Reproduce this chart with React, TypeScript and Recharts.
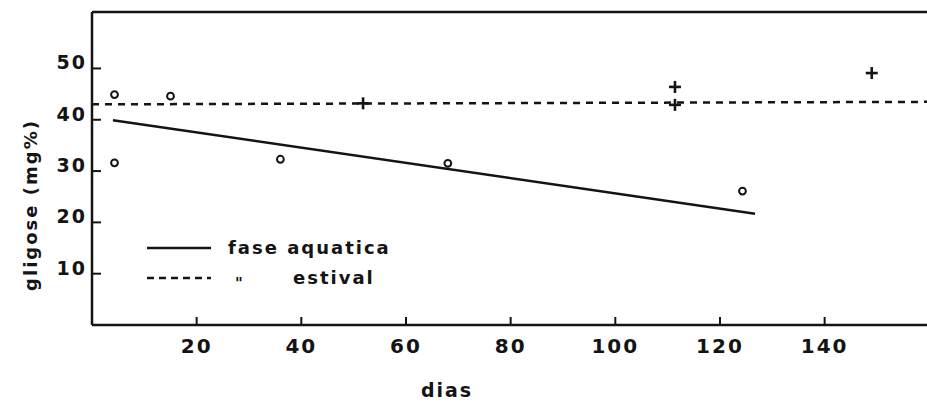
import { ComposedChart, Scatter, XAxis, YAxis, ReferenceLine } from 'recharts';

// fase aquatica - pontos (dias, glicose mg%)
const aquaticaDias = [4.3, 4.3, 15, 36, 68, 124.3];
const aquaticaGlic = [44.9, 31.6, 44.6, 32.3, 31.5, 26.1];
// fase estival - pontos
const estivalDias = [51.8, 111.4, 111.4, 149];
const estivalGlic = [43.2, 46.4, 42.9, 49.1];
// linhas de tendencia
const aquaticaLinhaDias = [4, 126.7];
const aquaticaLinhaGlic = [39.9, 21.7];
const estivalLinhaDias = [0, 163];
const estivalLinhaGlic = [43.0, 43.5];

const xTicks = [20, 40, 60, 80, 100, 120, 140];
const yTicks = [10, 20, 30, 40, 50];
const yMax = 61;

const toPts = (xs: number[], ys: number[]) => xs.map((x, i) => ({ x, y: ys[i] }));

const aquatica = toPts(aquaticaDias, aquaticaGlic);
const estival = toPts(estivalDias, estivalGlic);
const aquaticaLinha = toPts(aquaticaLinhaDias, aquaticaLinhaGlic);
const estivalLinha = toPts(estivalLinhaDias, estivalLinhaGlic);

const INK = '#141414';
const FONT = '"DejaVu Sans", sans-serif';
const AXIS_X = 92;
const AXIS_Y = 325;

const Circle = (p: any) => (
  <circle cx={p.cx} cy={p.cy} r={3.4} fill="none" stroke={INK} strokeWidth={2} />
);

const Plus = (p: any) => (
  <g stroke={INK} strokeWidth={2.6}>
    <line x1={p.cx - 6} y1={p.cy} x2={p.cx + 6} y2={p.cy} />
    <line x1={p.cx} y1={p.cy - 6} x2={p.cx} y2={p.cy + 6} />
  </g>
);

const NoDot = () => <g />;

const XTick = (p: any) => (
  <g>
    <line x1={p.x} y1={AXIS_Y} x2={p.x} y2={AXIS_Y - 8} stroke={INK} strokeWidth={2} />
    <text x={p.x} y={AXIS_Y + 28} textAnchor="middle" fontSize={20} fontWeight="bold" letterSpacing={2} fill={INK} fontFamily={FONT}>
      {p.payload.value}
    </text>
  </g>
);

const YTick = (p: any) => (
  <g>
    <line x1={AXIS_X} y1={p.y} x2={AXIS_X + 9} y2={p.y} stroke={INK} strokeWidth={2} />
    <text x={AXIS_X - 5} y={p.y + 1} textAnchor="end" fontSize={19} fontWeight="bold" letterSpacing={2} fill={INK} fontFamily={FONT}>
      {p.payload.value}
    </text>
  </g>
);

const YLabel = () => (
  <text x={37} y={205} transform="rotate(-90, 37, 205)" textAnchor="middle" fontSize={18} fontWeight="bold" letterSpacing={2} fill={INK} fontFamily={FONT}>
    gligose (mg%)
  </text>
);

const XLabel = () => (
  <text x={447} y={397} textAnchor="middle" fontSize={19} fontWeight="bold" letterSpacing={2} fill={INK} fontFamily={FONT}>
    dias
  </text>
);

const LegendBox = () => (
  <div style={{ position: 'absolute', left: 147, top: 233, fontFamily: FONT, fontSize: 18, fontWeight: 'bold', letterSpacing: 2, color: INK, lineHeight: '30px' }}>
    <div style={{ display: 'flex', alignItems: 'center', height: 30 }}>
      <svg width={64} height={10}>
        <line x1={0} y1={5} x2={64} y2={5} stroke={INK} strokeWidth={2.5} />
      </svg>
      <span style={{ marginLeft: 17 }}>fase aquatica</span>
    </div>
    <div style={{ display: 'flex', alignItems: 'center', height: 30 }}>
      <svg width={64} height={10}>
        <line x1={0} y1={5} x2={64} y2={5} stroke={INK} strokeWidth={2.5} strokeDasharray="7 5" />
      </svg>
      <span style={{ marginLeft: 24, width: 58, position: 'relative', top: 6, fontSize: 15 }}>"</span>
      <span>estival</span>
    </div>
  </div>
);

export default function App() {
  return (
    <div style={{ position: 'absolute', left: 0, top: 0, width: 927, height: 402, overflow: 'hidden', background: '#fff' }}>
      <ComposedChart width={945} height={402} margin={{ top: 12, right: 0, bottom: 0, left: 0 }}>
        <XAxis
          type="number"
          dataKey="x"
          domain={[0, 163]}
          ticks={xTicks}
          height={77}
          tickLine={false}
          tick={<XTick />}
          axisLine={{ stroke: INK, strokeWidth: 2.5 }}
          label={<XLabel />}
        />
        <YAxis
          type="number"
          dataKey="y"
          domain={[0, yMax]}
          ticks={yTicks}
          width={92}
          tickLine={false}
          tick={<YTick />}
          axisLine={{ stroke: INK, strokeWidth: 2.5 }}
          label={<YLabel />}
        />
        <ReferenceLine y={yMax} stroke={INK} strokeWidth={2.5} />
        <Scatter data={estivalLinha} line={{ stroke: INK, strokeWidth: 2.5, strokeDasharray: '7 6' }} shape={<NoDot />} isAnimationActive={false} />
        <Scatter data={aquaticaLinha} line={{ stroke: INK, strokeWidth: 2.5 }} shape={<NoDot />} isAnimationActive={false} />
        <Scatter data={aquatica} shape={<Circle />} isAnimationActive={false} />
        <Scatter data={estival} shape={<Plus />} isAnimationActive={false} />
      </ComposedChart>
      <LegendBox />
    </div>
  );
}
